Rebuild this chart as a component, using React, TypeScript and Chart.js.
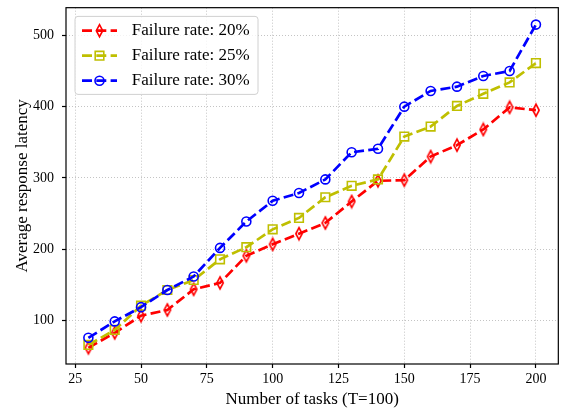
import React, { useEffect, useRef } from 'react';
import { Chart, registerables } from 'chart.js';

Chart.register(...registerables);

const taskCounts = [30, 40, 50, 60, 70, 80, 90, 100, 110, 120, 130, 140, 150, 160, 170, 180, 190, 200];
const rate20 = [62, 83, 107, 115, 144, 153, 191, 207, 222, 237, 267, 296, 297, 330, 346, 368, 399, 395];
const rate25 = [66, 87, 121, 143, 157, 186, 203, 228, 244, 273, 289, 298, 358, 372, 401, 418, 434, 461];
const rate30 = [76, 99, 119, 143, 162, 202, 239, 268, 279, 298, 336, 341, 400, 422, 428, 443, 450, 515];
const seriesLabels = ['Failure rate: 20%', 'Failure rate: 25%', 'Failure rate: 30%'];
const seriesColors = ['#ff0000', '#bfbf00', '#0000ff'];
const xTickValues = [25, 50, 75, 100, 125, 150, 175, 200];
const yTickValues = [100, 200, 300, 400, 500];
const xTitle = 'Number of tasks (T=100)';
const yTitle = 'Average response latency';

const FONT = "'Liberation Serif', 'Times New Roman', serif";
const DASH = [10, 4.3];
const LINE_W = 2.7;
const MARK_LW = 1.6;

function diamondPath(ctx: CanvasRenderingContext2D, x: number, y: number) {
  ctx.beginPath();
  ctx.moveTo(x, y - 6.0);
  ctx.lineTo(x + 3.2, y);
  ctx.lineTo(x, y + 6.0);
  ctx.lineTo(x - 3.2, y);
  ctx.closePath();
}

function makeDiamond(color: string) {
  const c = document.createElement('canvas');
  c.width = 12;
  c.height = 16;
  const ctx = c.getContext('2d')!;
  ctx.strokeStyle = color;
  ctx.lineWidth = MARK_LW;
  diamondPath(ctx, 6, 8);
  ctx.stroke();
  return c;
}

function drawMarker(ctx: CanvasRenderingContext2D, kind: number, x: number, y: number, color: string) {
  ctx.save();
  ctx.setLineDash([]);
  ctx.strokeStyle = color;
  ctx.lineWidth = MARK_LW;
  if (kind === 0) {
    diamondPath(ctx, x, y);
  } else if (kind === 1) {
    ctx.beginPath();
    ctx.rect(x - 4.3, y - 4.3, 8.6, 8.6);
  } else {
    ctx.beginPath();
    ctx.arc(x, y, 4.5, 0, Math.PI * 2);
  }
  ctx.stroke();
  ctx.restore();
}

const frameAndLegend = {
  id: 'frameAndLegend',
  afterDraw(chart: any) {
    const { ctx, chartArea: a } = chart;
    ctx.save();
    ctx.setLineDash([]);
    ctx.strokeStyle = '#000';
    ctx.lineWidth = 1.2;
    ctx.strokeRect(a.left, a.top, a.right - a.left, a.bottom - a.top);

    const bx = a.left + 9;
    const by = a.top + 8.7;
    const bw = 183;
    const bh = 78;
    const r = 3;
    ctx.beginPath();
    ctx.moveTo(bx + r, by);
    ctx.lineTo(bx + bw - r, by);
    ctx.arcTo(bx + bw, by, bx + bw, by + r, r);
    ctx.lineTo(bx + bw, by + bh - r);
    ctx.arcTo(bx + bw, by + bh, bx + bw - r, by + bh, r);
    ctx.lineTo(bx + r, by + bh);
    ctx.arcTo(bx, by + bh, bx, by + bh - r, r);
    ctx.lineTo(bx, by + r);
    ctx.arcTo(bx, by, bx + r, by, r);
    ctx.closePath();
    ctx.fillStyle = 'rgba(255,255,255,0.8)';
    ctx.fill();
    ctx.strokeStyle = '#d0d0d0';
    ctx.lineWidth = 1;
    ctx.stroke();

    chart.data.datasets.forEach((ds: any, i: number) => {
      const cy = by + 14.3 + i * 25;
      const color = ds.borderColor;
      ctx.save();
      ctx.strokeStyle = color;
      ctx.lineWidth = LINE_W;
      ctx.setLineDash(DASH);
      ctx.beginPath();
      ctx.moveTo(a.left + 16, cy);
      ctx.lineTo(a.left + 51, cy);
      ctx.stroke();
      ctx.restore();
      drawMarker(ctx, i, a.left + 33.5, cy, color);
      ctx.fillStyle = '#000';
      ctx.font = `17px ${FONT}`;
      ctx.textAlign = 'left';
      ctx.textBaseline = 'middle';
      ctx.fillText(ds.label, a.left + 65.7, cy);
    });
    ctx.restore();
  },
};

export default function App() {
  const ref = useRef<HTMLCanvasElement>(null);

  useEffect(() => {
    if (!ref.current) return;
    const toPoints = (vals: number[]) => taskCounts.map((x, i) => ({ x, y: vals[i] }));
    const series = [rate20, rate25, rate30];
    const styles: any[] = [makeDiamond(seriesColors[0]), 'rect', 'circle'];
    const radii = [6, 6.08, 4.5];

    const datasets = series.map((vals, i) => ({
      label: seriesLabels[i],
      data: toPoints(vals),
      borderColor: seriesColors[i],
      backgroundColor: 'rgba(0,0,0,0)',
      borderWidth: LINE_W,
      borderDash: DASH,
      fill: false,
      tension: 0,
      pointStyle: styles[i],
      pointRadius: radii[i],
      pointBorderColor: seriesColors[i],
      pointBackgroundColor: 'rgba(0,0,0,0)',
      pointBorderWidth: MARK_LW,
      order: 2 - i,
    }));

    const zeroPad = (s: any) => {
      s.paddingTop = 0;
      s.paddingBottom = 0;
      s.paddingLeft = 0;
      s.paddingRight = 0;
    };

    const chart = new Chart(ref.current, {
      type: 'line',
      data: { datasets },
      plugins: [frameAndLegend],
      options: {
        animation: false,
        responsive: false,
        maintainAspectRatio: false,
        layout: { padding: { top: 4, right: 5, left: 0, bottom: 0 } },
        font: { family: FONT },
        plugins: {
          legend: { display: false },
          tooltip: { enabled: false },
        },
        scales: {
          x: {
            type: 'linear',
            min: 21.5,
            max: 208.5,
            afterBuildTicks: (s: any) => {
              s.ticks = xTickValues.map((v) => ({ value: v }));
            },
            afterFit: (s: any) => {
              s.height = 50;
              zeroPad(s);
            },
            grid: {
              color: '#c4c4c4',
              lineWidth: 1,
              drawTicks: true,
              tickLength: 4,
              tickColor: '#000',
              tickWidth: 1.2,
            },
            border: { display: false, dash: [1, 2] },
            ticks: {
              color: '#000',
              font: { family: FONT, size: 14 },
              padding: 3,
              maxRotation: 0,
              autoSkip: false,
              callback: (v: any) => String(v),
            },
            title: {
              display: true,
              text: xTitle,
              color: '#000',
              font: { family: FONT, size: 17 },
              padding: { top: 0, bottom: 4.5 },
            },
          },
          y: {
            type: 'linear',
            min: 39.3,
            max: 538.7,
            afterBuildTicks: (s: any) => {
              s.ticks = yTickValues.map((v) => ({ value: v }));
            },
            afterFit: (s: any) => {
              s.width = 66;
              zeroPad(s);
            },
            grid: {
              color: '#c4c4c4',
              lineWidth: 1,
              drawTicks: true,
              tickLength: 4,
              tickColor: '#000',
              tickWidth: 1.2,
            },
            border: { display: false, dash: [1, 2] },
            ticks: {
              color: '#000',
              font: { family: FONT, size: 14 },
              padding: 8,
              autoSkip: false,
              callback: (v: any) => String(v),
            },
            title: {
              display: true,
              text: yTitle,
              color: '#000',
              font: { family: FONT, size: 17 },
              padding: { top: 12, bottom: 0 },
            },
          },
        },
      } as any,
    });
    return () => chart.destroy();
  }, []);

  return (
    <div style={{ position: 'absolute', left: 0, top: 0, width: 566, height: 414, background: '#fff' }}>
      <canvas ref={ref} width={566} height={414} style={{ display: 'block' }} />
    </div>
  );
}
